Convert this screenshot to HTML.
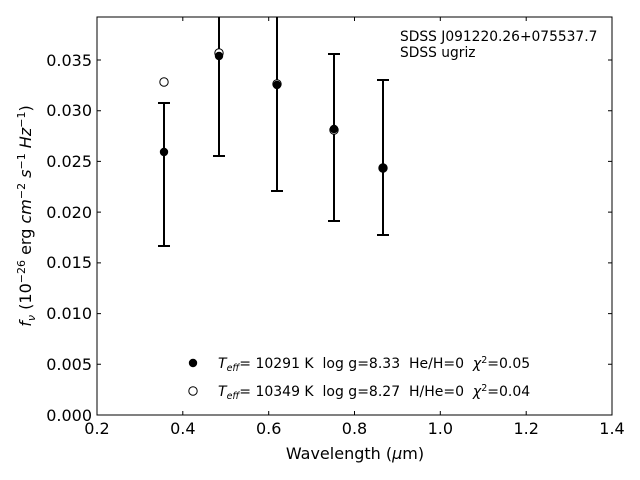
<!DOCTYPE html>
<html><head><meta charset="utf-8"><style>body{margin:0;background:#fff}svg{display:block}text{white-space:pre}</style></head><body>
<svg width="640" height="480" xmlns="http://www.w3.org/2000/svg" font-family="DejaVu Sans, Liberation Sans, sans-serif" xml:space="preserve">
<defs><clipPath id="c"><rect x="97" y="17" width="515" height="398"/></clipPath></defs>
<rect width="640" height="480" fill="#fff"/>
<g stroke="#000" stroke-width="1">
<path d="M182.8,415v-4M268.7,415v-4M354.5,415v-4M440.3,415v-4M526.2,415v-4M182.8,17v4M268.7,17v4M354.5,17v4M440.3,17v4M526.2,17v4"/>
<path d="M97,364.3h4M97,313.6h4M97,262.9h4M97,212.1h4M97,161.4h4M97,110.7h4M97,60h4M612,364.3h-4M612,313.6h-4M612,262.9h-4M612,212.1h-4M612,161.4h-4M612,110.7h-4M612,60h-4"/>
</g>
<g font-size="16" fill="#000" text-anchor="middle">
<text x="97" y="434">0.2</text><text x="182.8" y="434">0.4</text><text x="268.7" y="434">0.6</text><text x="354.5" y="434">0.8</text><text x="440.3" y="434">1.0</text><text x="526.2" y="434">1.2</text><text x="612" y="434">1.4</text>
</g>
<g font-size="16" fill="#000" text-anchor="end">
<text x="92" y="421">0.000</text><text x="92" y="370">0.005</text><text x="92" y="319">0.010</text><text x="92" y="268">0.015</text><text x="92" y="218">0.020</text><text x="92" y="167">0.025</text><text x="92" y="116">0.030</text><text x="92" y="66">0.035</text>
</g>
<text x="355" y="459" font-size="16" text-anchor="middle">Wavelength (<tspan font-style="italic">μ</tspan>m)</text>
<text transform="translate(31,216) rotate(-90)" font-size="16" text-anchor="middle"><tspan font-style="italic">f</tspan><tspan font-style="italic" font-size="11" dy="4">ν</tspan><tspan dy="-4"> (10</tspan><tspan font-size="11" dy="-6">−26</tspan><tspan dy="6"> erg </tspan><tspan font-style="italic">cm</tspan><tspan font-size="11" dy="-6">−2</tspan><tspan dy="6" font-style="italic"> s</tspan><tspan font-size="11" dy="-6">−1</tspan><tspan dy="6" font-style="italic"> Hz</tspan><tspan font-size="11" dy="-6">−1</tspan><tspan dy="6">)</tspan></text>
<g clip-path="url(#c)" stroke="#000" stroke-width="2" fill="none">
<path d="M164,103V246M158,103h12M158,246h12"/>
<path d="M219,10V156M213,156h12"/>
<path d="M277,10V191M271,191h12"/>
<path d="M334,54V221M328,54h12M328,221h12"/>
<path d="M383,80V235M377,80h12M377,235h12"/>
</g>
<g fill="#fff" stroke="#000" stroke-width="1">
<circle cx="164" cy="82" r="4.2"/><circle cx="219" cy="53" r="4.2"/><circle cx="277" cy="84" r="4.2"/><circle cx="334" cy="130" r="4.2"/><circle cx="383" cy="168" r="4.2"/>
</g>
<g fill="#000">
<circle cx="164" cy="152" r="4.2"/><circle cx="219" cy="56" r="4.2"/><circle cx="277" cy="85" r="4.2"/><circle cx="334" cy="129" r="4.2"/><circle cx="383" cy="168" r="4.2"/>
</g>
<rect x="97" y="17" width="515" height="398" fill="none" stroke="#000" stroke-width="1"/>
<text x="400" y="41" font-size="13.8">SDSS J091220.26+075537.7</text>
<text x="400" y="57" font-size="13.8">SDSS ugriz</text>
<circle cx="193" cy="363" r="4.2" fill="#000"/>
<circle cx="193" cy="391" r="4.2" fill="#fff" stroke="#000"/>
<text x="218" y="368" font-size="14"><tspan font-style="italic">T</tspan><tspan font-style="italic" font-size="9.5" dy="3">eff</tspan><tspan dy="-3">= 10291 K  log g=8.33  He/H=0  </tspan><tspan font-style="italic">χ</tspan><tspan font-size="9.5" dy="-5">2</tspan><tspan dy="5">=0.05</tspan></text>
<text x="218" y="396" font-size="14"><tspan font-style="italic">T</tspan><tspan font-style="italic" font-size="9.5" dy="3">eff</tspan><tspan dy="-3">= 10349 K  log g=8.27  H/He=0  </tspan><tspan font-style="italic">χ</tspan><tspan font-size="9.5" dy="-5">2</tspan><tspan dy="5">=0.04</tspan></text>
</svg>
</body></html>
